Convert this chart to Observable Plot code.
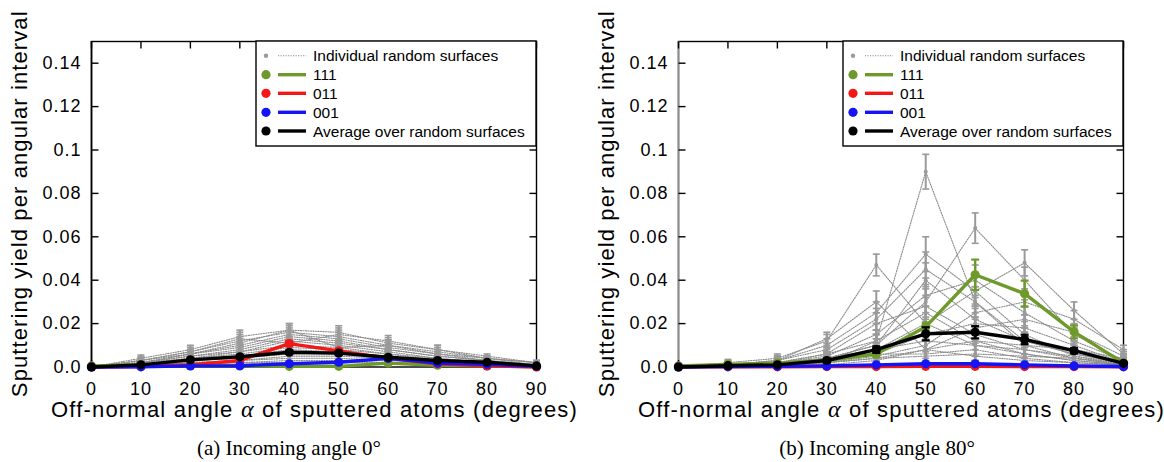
<!DOCTYPE html>
<html>
<head>
<meta charset="utf-8">
<script src="https://cdn.jsdelivr.net/npm/d3@7"></script>
<script src="https://cdn.jsdelivr.net/npm/@observablehq/plot@0.6"></script>
<style>
  html, body { margin: 0; padding: 0; background: white; }
  #wrap { display: flex; width: 1164px; height: 462px; overflow: hidden; }
  g[aria-label="y-axis tick label"] text, g[aria-label="x-axis tick label"] text { letter-spacing: 1px; }
</style>
</head>
<body>
<div id="wrap"></div>
<script>
// ---------- data ----------
const angles = [0, 10, 20, 30, 40, 50, 60, 70, 80, 90];
const yTicks = [0, 0.02, 0.04, 0.06, 0.08, 0.1, 0.12, 0.14];
const yTickLabels = ["0.0", "0.02", "0.04", "0.06", "0.08", "0.1", "0.12", "0.14"];
const legendLabels = ["Individual random surfaces", "111", "011", "001", "Average over random surfaces"];
const legendColors = ["#9a9a9a", "#6e9a2b", "#f21818", "#1414f5", "#000000"];

// (a) incoming angle 0°
const leftGray = [
  [0, 0.004, 0.008, 0.014, 0.017, 0.016, 0.011, 0.008, 0.004, 0.002],
  [0, 0.003, 0.007, 0.012, 0.016, 0.014, 0.010, 0.007, 0.004, 0.002],
  [0, 0.002, 0.006, 0.010, 0.015, 0.013, 0.009, 0.006, 0.003, 0.001],
  [0, 0.003, 0.006, 0.009, 0.014, 0.012, 0.008, 0.005, 0.003, 0.001],
  [0, 0.002, 0.005, 0.008, 0.013, 0.011, 0.008, 0.005, 0.003, 0.001],
  [0, 0.002, 0.005, 0.007, 0.012, 0.010, 0.007, 0.004, 0.002, 0.001],
  [0, 0.002, 0.004, 0.007, 0.010, 0.009, 0.006, 0.004, 0.002, 0.001],
  [0, 0.001, 0.004, 0.006, 0.009, 0.008, 0.006, 0.003, 0.002, 0.001],
  [0, 0.001, 0.003, 0.005, 0.008, 0.007, 0.005, 0.003, 0.002, 0.001],
  [0, 0.001, 0.003, 0.004, 0.006, 0.006, 0.004, 0.003, 0.001, 0.000],
  [0, 0.001, 0.002, 0.003, 0.005, 0.005, 0.004, 0.002, 0.001, 0.000],
  [0, 0.001, 0.002, 0.003, 0.004, 0.004, 0.003, 0.002, 0.001, 0.000],
  [0, 0.001, 0.002, 0.002, 0.003, 0.003, 0.002, 0.002, 0.001, 0.000],
  [0, 0.000, 0.001, 0.002, 0.002, 0.002, 0.002, 0.001, 0.001, 0.000],
  [0, 0.003, 0.007, 0.013, 0.011, 0.015, 0.012, 0.008, 0.005, 0.002],
  [0, 0.002, 0.006, 0.011, 0.017, 0.009, 0.010, 0.006, 0.004, 0.001]
];
const leftGrayErr = [0.0003, 0.0015, 0.002, 0.003, 0.003, 0.003, 0.0025, 0.002, 0.001, 0.001];
const left111 = [0.0005, 0.001, 0.0006, 0.0005, 0.0003, 0.0003, 0.0018, 0.0008, 0.0005, 0.0002];
const left111Err = [0.0002, 0.0003, 0.0003, 0.0003, 0.0002, 0.0002, 0.0006, 0.0004, 0.0003, 0.0002];
const left011 = [0, 0.0002, 0.001, 0.003, 0.0108, 0.0074, 0.004, 0.0015, 0.0005, 0];
const left011Err = [0.0001, 0.0002, 0.0004, 0.0006, 0.0012, 0.001, 0.0007, 0.0005, 0.0003, 0.0001];
const left001 = [0, 0.0001, 0.0005, 0.0006, 0.0015, 0.0022, 0.004, 0.0018, 0.0012, 0.0003];
const left001Err = [0.0001, 0.0001, 0.0003, 0.0003, 0.0005, 0.0006, 0.0008, 0.0005, 0.0004, 0.0002];
const leftAvg = [0, 0.001, 0.0033, 0.0047, 0.0068, 0.0064, 0.0045, 0.003, 0.0022, 0.0005];
const leftAvgErr = [0.0001, 0.0003, 0.0005, 0.0006, 0.0008, 0.0008, 0.0006, 0.0005, 0.0004, 0.0002];

// (b) incoming angle 80°
const rightGray = [
  [0, 0.001, 0.002, 0.006, 0.012, 0.090, 0.030, 0.010, 0.004, 0.001],
  [0, 0.002, 0.004, 0.012, 0.047, 0.020, 0.010, 0.006, 0.003, 0.001],
  [0, 0.001, 0.002, 0.004, 0.010, 0.030, 0.064, 0.040, 0.015, 0.003],
  [0, 0.000, 0.001, 0.003, 0.008, 0.020, 0.035, 0.048, 0.026, 0.006],
  [0, 0.001, 0.003, 0.010, 0.025, 0.052, 0.035, 0.015, 0.005, 0.001],
  [0, 0.001, 0.003, 0.008, 0.022, 0.045, 0.030, 0.012, 0.006, 0.002],
  [0, 0.001, 0.002, 0.005, 0.015, 0.033, 0.040, 0.025, 0.012, 0.003],
  [0, 0.000, 0.001, 0.002, 0.005, 0.010, 0.025, 0.030, 0.022, 0.008],
  [0, 0.001, 0.002, 0.004, 0.008, 0.012, 0.010, 0.008, 0.005, 0.002],
  [0, 0.000, 0.001, 0.002, 0.004, 0.008, 0.012, 0.010, 0.008, 0.004],
  [0, 0.001, 0.002, 0.006, 0.020, 0.028, 0.015, 0.008, 0.004, 0.001],
  [0, 0.000, 0.001, 0.003, 0.006, 0.015, 0.020, 0.018, 0.010, 0.002],
  [0, 0.001, 0.003, 0.013, 0.030, 0.008, 0.005, 0.003, 0.002, 0.001],
  [0, 0.000, 0.001, 0.002, 0.004, 0.005, 0.006, 0.005, 0.004, 0.002],
  [0, 0.001, 0.002, 0.004, 0.010, 0.040, 0.022, 0.012, 0.006, 0.002],
  [0, 0.000, 0.001, 0.001, 0.003, 0.008, 0.018, 0.022, 0.016, 0.005],
  [0, 0.001, 0.001, 0.003, 0.006, 0.006, 0.008, 0.004, 0.002, 0.001],
  [0, 0.000, 0.001, 0.002, 0.012, 0.025, 0.012, 0.006, 0.003, 0.001]
];
const rightGrayErr = [0.0003, 0.0015, 0.002, 0.003, 0.005, 0.008, 0.007, 0.006, 0.004, 0.002];
const right111 = [0.0005, 0.0012, 0.0018, 0.003, 0.006, 0.0185, 0.0425, 0.0338, 0.0162, 0.0018];
const right111Err = [0.0002, 0.0004, 0.0005, 0.0008, 0.0015, 0.002, 0.007, 0.006, 0.003, 0.0006];
const right011 = [0.0001, 0.0001, 0.0001, 0.0002, 0.0002, 0.0003, 0.0003, 0.0002, 0.0002, 0.0001];
const right011Err = [0.0001, 0.0001, 0.0001, 0.0001, 0.0001, 0.0001, 0.0001, 0.0001, 0.0001, 0.0001];
const right001 = [0, 0.0002, 0.0003, 0.0005, 0.001, 0.0015, 0.0015, 0.001, 0.0005, 0.0002];
const right001Err = [0.0001, 0.0001, 0.0001, 0.0002, 0.0003, 0.0003, 0.0003, 0.0003, 0.0002, 0.0001];
const rightAvg = [0, 0.0006, 0.001, 0.003, 0.008, 0.0153, 0.016, 0.0127, 0.0075, 0.0017];
const rightAvgErr = [0.0001, 0.0003, 0.0004, 0.0008, 0.0015, 0.003, 0.0028, 0.0022, 0.0012, 0.0004];

// ---------- helpers ----------
const rowsOf = (vals, errs, id) => angles.map((a, i) => ({x: a, y: vals[i], e: errs[i], s: id}));
const capSym = {draw(ctx, size) { const r = Math.sqrt(size / Math.PI); ctx.moveTo(-r, 0); ctx.lineTo(r, 0); }};
const tickRight = {draw(ctx, size) { const r = Math.sqrt(size / Math.PI); ctx.moveTo(0, 0); ctx.lineTo(r, 0); }};
const tickLeft = {draw(ctx, size) { const r = Math.sqrt(size / Math.PI); ctx.moveTo(0, 0); ctx.lineTo(-r, 0); }};
const tickDown = {draw(ctx, size) { const r = Math.sqrt(size / Math.PI); ctx.moveTo(0, 0); ctx.lineTo(0, r); }};
const tickUp = {draw(ctx, size) { const r = Math.sqrt(size / Math.PI); ctx.moveTo(0, 0); ctx.lineTo(0, -r); }};

function seriesMarks(rows, color, o) {
  const marks = [];
  if (o.gray) {
    marks.push(Plot.lineY(rows, {x: "x", y: "y", z: "s", stroke: "#8c8c8c", strokeWidth: 1.1, strokeDasharray: "1.2,1.3"}));
  } else {
    marks.push(Plot.lineY(rows, {x: "x", y: "y", stroke: color, strokeWidth: 3.4}));
  }
  marks.push(Plot.ruleX(rows, {x: "x", y1: d => Math.max(0, d.y - d.e), y2: d => d.y + d.e, stroke: color, strokeWidth: o.gray ? 2 : 2.4}));
  marks.push(Plot.dot(rows, {x: "x", y: d => d.y + d.e, symbol: capSym, r: o.gray ? 3.5 : 4, stroke: color, strokeWidth: o.gray ? 1.6 : 2.2, fill: "none"}));
  marks.push(Plot.dot(rows.filter(d => d.y - d.e > 0), {x: "x", y: d => d.y - d.e, symbol: capSym, r: o.gray ? 3.5 : 4, stroke: color, strokeWidth: o.gray ? 1.6 : 2.2, fill: "none"}));
  marks.push(Plot.dot(rows, {x: "x", y: "y", r: o.gray ? 2 : 4.6, fill: color, stroke: "none"}));
  return marks;
}

function panel(cfg) {
  const W = 582, H = 462;
  const grayRows = cfg.gray.flatMap((vals, k) => rowsOf(vals, cfg.grayErr, "g" + k));
  const chart = Plot.plot({
    width: W, height: H,
    marginTop: 41, marginBottom: 95.5, marginLeft: cfg.marginLeft, marginRight: cfg.marginRight,
    x: {domain: [0, 90]},
    y: {domain: [0, 0.15]},
    style: {fontFamily: "'Liberation Sans', Arial, Helvetica, sans-serif", fontSize: "18px", color: "black", background: "white", overflow: "visible"},
    marks: [
      Plot.frame({stroke: "black", strokeWidth: 1.4}),
      Plot.ruleX([0], {stroke: cfg.leftAxisColor, strokeWidth: 1.6}),
      Plot.dot(yTicks, {y: d => d, frameAnchor: "left", symbol: tickRight, r: 7, stroke: "black", strokeWidth: 1.4, fill: "none"}),
      Plot.dot(yTicks, {y: d => d, frameAnchor: "right", symbol: tickLeft, r: 7, stroke: "black", strokeWidth: 1.4, fill: "none"}),
      Plot.dot(angles, {x: d => d, frameAnchor: "top", symbol: tickDown, r: 7, stroke: "black", strokeWidth: 1.4, fill: "none"}),
      Plot.dot(angles, {x: d => d, frameAnchor: "bottom", symbol: tickUp, r: 7, stroke: "black", strokeWidth: 1.4, fill: "none"}),
      Plot.axisY(yTicks, {tickSize: 0, tickPadding: 10, tickFormat: d => yTickLabels[yTicks.indexOf(d)], label: null, fontSize: 18}),
      Plot.axisX(angles, {tickSize: 0, tickPadding: 15, tickFormat: d => String(d), label: null, fontSize: 18}),
      ...seriesMarks(grayRows, legendColors[0], {gray: true}),
      ...seriesMarks(rowsOf(cfg.s111, cfg.e111, "111"), legendColors[1], {}),
      ...seriesMarks(rowsOf(cfg.s011, cfg.e011, "011"), legendColors[2], {}),
      ...seriesMarks(rowsOf(cfg.s001, cfg.e001, "001"), legendColors[3], {}),
      ...seriesMarks(rowsOf(cfg.avg, cfg.eAvg, "avg"), legendColors[4], {})
    ]
  });
  const svg = d3.select(chart);
  const frameL = cfg.marginLeft, frameR = W - cfg.marginRight, frameT = 41, frameB = H - 95.5;
  const sans = "'Liberation Sans', Arial, Helvetica, sans-serif";
  const serif = "'Liberation Serif', 'Times New Roman', serif";

  // y label
  svg.append("text")
    .attr("transform", `translate(${cfg.yLabelX},${(frameT + frameB) / 2}) rotate(-90)`)
    .attr("text-anchor", "middle")
    .style("font-family", sans).style("font-size", "22px").style("letter-spacing", "1.1px").attr("fill", "black")
    .text("Sputtering yield per angular interval");

  // x label
  const xl = svg.append("text")
    .attr("x", (frameL + frameR) / 2 + 1).attr("y", 417)
    .attr("text-anchor", "middle")
    .style("font-family", sans).style("font-size", "22px").style("letter-spacing", "1.2px").attr("fill", "black");
  xl.append("tspan").text("Off-normal angle ");
  xl.append("tspan").style("font-family", serif).style("font-style", "italic").style("font-size", "24px").text("α");
  xl.append("tspan").text(" of sputtered atoms (degrees)");

  // caption
  svg.append("text")
    .attr("x", cfg.captionX).attr("y", 455)
    .attr("text-anchor", "middle")
    .style("font-family", serif).style("font-size", "21px").attr("fill", "black")
    .text(cfg.caption);

  // legend
  const boxW = 280, boxH = 105;
  const lg = svg.append("g").attr("transform", `translate(${frameR - boxW},${frameT})`);
  lg.append("rect").attr("width", boxW).attr("height", boxH).attr("fill", "white").attr("stroke", "black").attr("stroke-width", 1.4);
  const rowY = [14.7, 33.7, 52.3, 71.3, 90];
  legendLabels.forEach((lab, i) => {
    const g = lg.append("g").attr("transform", `translate(0,${rowY[i]})`);
    const c = legendColors[i];
    if (i === 0) {
      g.append("circle").attr("cx", 10).attr("cy", 0).attr("r", 2.2).attr("fill", c);
      g.append("line").attr("x1", 22).attr("x2", 50).attr("y1", 0).attr("y2", 0).attr("stroke", "#8c8c8c").attr("stroke-width", 1.1).attr("stroke-dasharray", "1.2,1.3");
    } else {
      g.append("circle").attr("cx", 10).attr("cy", 0).attr("r", 4.6).attr("fill", c);
      g.append("line").attr("x1", 22).attr("x2", 50).attr("y1", 0).attr("y2", 0).attr("stroke", c).attr("stroke-width", 3.4);
    }
    g.append("text").attr("x", 57).attr("y", 0).attr("dy", "0.36em").attr("text-anchor", "start")
      .style("font-family", sans).style("font-size", "15.5px").attr("fill", "black").text(lab);
  });
  return chart;
}

const wrap = document.getElementById("wrap");
wrap.appendChild(panel({
  gray: leftGray, grayErr: leftGrayErr,
  s111: left111, e111: left111Err, s011: left011, e011: left011Err,
  s001: left001, e001: left001Err, avg: leftAvg, eAvg: leftAvgErr,
  marginLeft: 91, marginRight: 46, yLabelX: 27, captionX: 289, leftAxisColor: "black",
  caption: "(a) Incoming angle 0°"
}));
wrap.appendChild(panel({
  gray: rightGray, grayErr: rightGrayErr,
  s111: right111, e111: right111Err, s011: right011, e011: right011Err,
  s001: right001, e001: right001Err, avg: rightAvg, eAvg: rightAvgErr,
  marginLeft: 96, marginRight: 41, yLabelX: 32, captionX: 295, leftAxisColor: "#8a8a8a",
  caption: "(b) Incoming angle 80°"
}));
</script>
</body>
</html>
